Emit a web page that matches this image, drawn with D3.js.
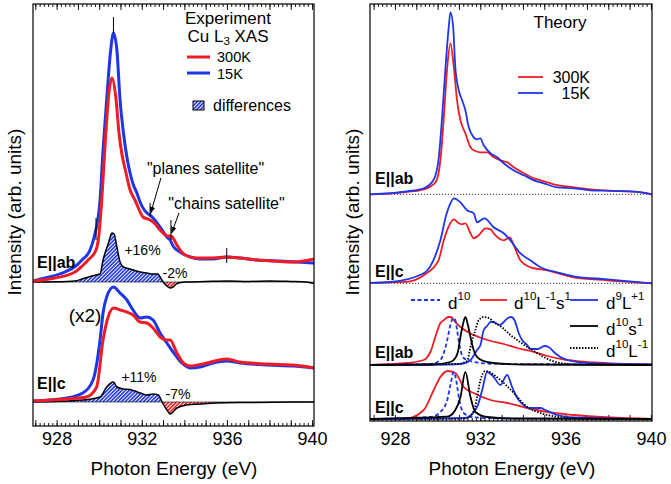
<!DOCTYPE html>
<html><head><meta charset="utf-8">
<script src="https://cdn.jsdelivr.net/npm/d3@7"></script>
<style>body{margin:0;background:#fff} svg text{font-family:"Liberation Sans",Arial,Helvetica,sans-serif;fill:#000}</style>
</head><body><svg id="c" width="671" height="484"></svg>
<script>
// ---------------- DATA (energy eV, intensity arb. units above each spectrum's baseline) ----------------
const xTickLabels = [928, 932, 936, 940];

// Experiment, E||ab
const expAb15K = [[926.9,0.1],[927.45,0.4],[928.39,1.0],[928.9,1.6],[929.19,2.2],[929.57,3.2],[929.75,4.4],[930.04,8.2],[930.18,13.2],[930.35,18.2],[930.54,23.2],[930.67,24.9],[930.83,23.2],[930.98,18.2],[931.14,14.9],[931.3,12.5],[931.45,10.9],[931.59,9.8],[931.77,8.9],[931.92,8.0],[932.24,6.9],[932.39,6.7],[932.53,6.4],[932.86,5.5],[933.05,4.9],[933.18,4.5],[933.33,4.2],[933.47,3.6],[933.8,3.0],[934.04,2.7],[934.27,2.5],[934.74,2.3],[935.35,2.3],[935.99,2.5],[936.62,2.4],[937.41,2.2],[938.5,2.1],[939.29,2.0],[940.09,1.9]];
const expAb300K = [[926.9,0.1],[927.92,0.4],[928.86,1.0],[929.2,1.6],[929.48,2.2],[929.85,3.2],[929.97,4.4],[930.12,8.2],[930.31,14.9],[930.47,19.2],[930.6,20.4],[930.78,18.5],[930.93,14.9],[931.09,12.5],[931.23,11.2],[931.45,9.2],[931.68,8.2],[932.06,6.5],[932.39,6.2],[932.63,5.8],[932.86,5.2],[933.05,4.8],[933.2,4.6],[933.37,4.6],[933.5,4.3],[933.65,3.7],[934.04,2.7],[934.6,2.4],[935.35,2.4],[935.95,2.5],[936.62,2.4],[937.41,2.2],[938.2,2.1],[939.11,2.0],[939.6,2.1],[940.09,2.3]];
const expAbDiff = [[926.9,0],[928.5,0.05],[928.86,0.1],[929.2,0.3],[929.5,0.5],[929.85,0.7],[930.04,0.8],[930.18,2.2],[930.42,3.8],[930.6,4.9],[930.7,4.8],[930.83,3.5],[930.98,2.0],[931.14,1.5],[931.45,1.3],[931.92,1.0],[932.24,0.9],[932.53,0.8],[932.75,0.8],[932.86,0.5],[933.0,0.0],[933.18,-0.4],[933.33,-0.6],[933.47,-0.5],[933.65,-0.15],[934.04,0.0],[935.0,0.05],[936.0,0.1],[937.0,0.05],[938.0,0.1],[939.0,0.05],[939.7,0.0],[940.09,-0.15]];
// Experiment, E||c (x2)
const expC15K = [[926.9,0.1],[928.47,0.4],[929.23,0.9],[929.71,2.2],[930.04,6.2],[930.18,8.9],[930.35,10.5],[930.67,11.5],[930.98,10.9],[931.3,10.2],[931.59,9.2],[931.92,8.4],[932.24,8.5],[932.53,8.2],[932.86,6.9],[933.18,5.9],[933.47,5.0],[933.88,3.9],[934.27,3.4],[934.74,3.5],[935.35,3.9],[935.99,4.1],[936.62,3.9],[937.88,3.7],[939.11,3.6],[940.09,3.4]];
const expC300K = [[926.9,0.1],[928.47,0.3],[929.4,0.5],[929.88,1.5],[930.18,6.2],[930.42,8.5],[930.67,9.4],[930.98,9.2],[931.3,9.0],[931.59,8.7],[931.92,8.0],[932.24,7.9],[932.53,7.4],[932.86,6.5],[933.18,6.2],[933.33,6.2],[933.65,4.9],[933.95,3.9],[934.27,3.6],[935.06,3.9],[935.99,4.3],[936.62,4.0],[937.88,3.8],[939.11,3.7],[940.09,3.4]];
const expCDiff = [[926.9,0],[929.23,0.2],[930.04,0.5],[930.35,1.5],[930.67,2.0],[930.83,1.5],[931.14,1.3],[931.45,1.25],[931.92,0.9],[932.24,0.7],[932.53,0.8],[932.78,0.7],[932.95,0.0],[933.18,-0.8],[933.33,-1.2],[933.65,-0.6],[934.1,-0.3],[934.74,-0.2],[935.5,-0.1],[937,-0.05],[940.09,0]];

// annotation markers on experimental E||ab spectrum
const markerE  = [929.85, 930.67, 932.39, 933.37, 935.99];
const markerLo = [4.2, 24.9, 6.5, 4.2, 1.9];
const markerHi = [6.4, 26.5, 7.9, 6.2, 3.4];

// Theory, E||ab
const thAb300K = [[926.85,0],[928.57,0.25],[929.35,0.5],[929.9,1.2],[930.13,3.4],[930.29,7.7],[930.45,12.7],[930.6,15.1],[930.76,12.7],[930.91,9.4],[931.07,7.4],[931.3,6.1],[931.54,4.7],[931.69,4.4],[932.01,4.2],[932.32,4.2],[932.63,3.7],[932.94,3.4],[933.1,3.3],[933.26,3.2],[933.57,2.7],[934.04,2.1],[934.51,1.6],[934.82,1.4],[935.44,1.0],[936.38,0.7],[937.95,0.36],[939.2,0.26],[940.05,0]];
const thAb15K = [[926.85,0],[928.57,0.3],[929.35,0.6],[929.8,1.4],[930.04,3.4],[930.21,7.7],[930.37,12.7],[930.52,16.7],[930.6,18.2],[930.73,16.7],[930.83,12.7],[930.99,10.4],[931.15,9.4],[931.3,8.4],[931.46,6.7],[931.69,5.7],[931.85,5.5],[932.0,5.6],[932.16,4.9],[932.48,4.1],[932.79,3.7],[933.1,3.1],[933.41,2.6],[933.73,2.2],[934.04,1.9],[934.51,1.4],[934.97,1.1],[935.6,0.7],[936.38,0.6],[937.16,0.4],[937.95,0.36],[939.2,0.26],[940.05,0]];
// Theory, E||c
const thC300K = [[926.85,0.05],[928.57,0.15],[929.35,0.8],[930.04,2.3],[930.29,4.3],[930.5,5.6],[930.76,6.4],[930.99,6.0],[931.15,5.9],[931.3,6.0],[931.54,5.0],[931.69,4.5],[931.93,4.8],[932.24,5.5],[932.48,5.4],[932.63,5.0],[932.94,4.4],[933.1,4.3],[933.38,4.6],[933.57,3.8],[933.88,2.3],[934.35,1.6],[935.13,1.3],[936.38,0.6],[937.95,0.3],[940.05,0]];
const thC15K = [[926.85,0.05],[927.79,0.13],[929.35,1.0],[929.8,2.3],[930.13,4.3],[930.4,6.8],[930.6,8.0],[930.76,8.5],[931.07,8.1],[931.38,7.3],[931.69,7.0],[931.85,6.1],[932.2,6.5],[932.63,5.6],[933.1,5.0],[933.41,4.3],[933.88,3.0],[934.35,2.3],[934.82,1.6],[935.6,1.1],[936.38,0.7],[937.95,0.4],[940.05,0]];

// Theory components, E||ab
const cAbD10   = [[926.85,0],[929.66,0.1],[930.13,0.5],[930.29,1.2],[930.45,2.5],[930.6,4.0],[930.73,4.7],[930.83,4.5],[930.91,3.5],[931.07,1.5],[931.22,0.7],[931.54,0.4],[932.01,0.2],[933.0,0.1],[940.05,0.05]];
const cAbD10Ls = [[926.85,0],[928.57,0.2],[929.35,0.5],[929.66,1.3],[929.95,3.2],[930.13,4.2],[930.3,4.5],[930.5,4.8],[930.6,4.8],[930.83,4.3],[931.07,3.8],[931.5,3.2],[931.93,2.8],[932.5,2.4],[933.1,2.1],[933.73,1.7],[934.35,1.4],[935.13,0.9],[936.07,0.5],[937.32,0.25],[940.05,0.05]];
const cAbD9L   = [[926.85,0],[930.5,0.05],[931.07,0.1],[931.54,0.5],[931.85,1.5],[932.01,2.0],[932.16,3.5],[932.32,3.9],[932.48,4.3],[932.6,4.3],[932.79,4.1],[932.94,4.0],[933.1,4.3],[933.3,4.7],[933.45,4.8],[933.6,4.5],[933.8,3.2],[933.96,2.5],[934.2,2.0],[934.35,1.6],[934.7,1.6],[935.0,1.9],[935.2,1.8],[935.5,1.2],[935.76,0.8],[936.07,0.5],[937.32,0.15],[940.05,0.05]];
const cAbD10s  = [[926.85,0],[929.8,0.05],[930.6,0.3],[930.83,0.7],[930.95,1.3],[931.07,2.8],[931.18,4.0],[931.3,4.8],[931.42,4.0],[931.54,2.8],[931.69,1.5],[931.85,0.8],[932.16,0.4],[932.63,0.2],[934.0,0.05],[940.05,0]];
const cAbD10L  = [[926.85,0],[930.9,0.1],[931.38,0.4],[931.54,1.8],[931.77,3.5],[931.93,4.5],[932.16,4.8],[932.4,4.7],[932.63,4.3],[933.0,3.8],[933.41,3.0],[933.8,2.4],[934.2,1.8],[934.6,1.3],[934.97,0.8],[935.76,0.2],[936.5,0.05],[940.05,0]];
// Theory components, E||c
const cCD10   = [[926.85,0],[929.66,0.2],[930.13,0.7],[930.45,1.9],[930.6,3.4],[930.76,4.7],[930.87,3.9],[930.99,2.2],[931.22,0.6],[931.69,0.17],[933.0,0.05],[940.05,0.02]];
const cCD10Ls = [[926.85,0],[928.57,0.07],[929.35,0.9],[929.82,2.9],[930.13,4.2],[930.47,4.8],[930.83,4.6],[931.22,3.2],[931.69,2.6],[932.48,1.9],[933.26,1.6],[934.2,1.1],[935.13,0.7],[936.38,0.4],[940.05,0]];
const cCD9L   = [[926.85,0],[931.3,0.1],[931.85,1.2],[932.09,2.9],[932.32,4.7],[932.63,4.2],[932.94,3.4],[933.26,4.4],[933.49,3.2],[933.8,1.9],[934.35,1.1],[934.82,1.1],[935.05,0.9],[935.6,0.4],[936.38,0.17],[940.05,0]];
const cCD10s  = [[926.85,0],[930.45,0.23],[930.83,0.9],[931.07,2.2],[931.3,4.7],[931.54,2.2],[931.77,0.7],[932.32,0.2],[933.5,0.05],[940.05,0]];
const cCD10L  = [[926.85,0],[931.3,0.05],[931.72,0.9],[931.85,2.2],[932.01,3.9],[932.24,4.8],[932.94,3.9],[933.57,2.6],[934.2,1.2],[934.82,0.6],[935.6,0.23],[936.5,0.05],[940.05,0]];

// ---------------- DRAWING ----------------
const RED = "#ee1c24", BLUE = "#1f35e8";
const svg = d3.select("#c");
const defs = svg.append("defs");

function hatch(id, color){
  const p = defs.append("pattern").attr("id", id).attr("patternUnits","userSpaceOnUse")
    .attr("width",2.6).attr("height",2.6).attr("patternTransform","rotate(45)");
  p.append("rect").attr("width",2.6).attr("height",2.6).attr("fill","#fff");
  p.append("line").attr("x1",0.8).attr("y1",0).attr("x2",0.8).attr("y2",2.6).attr("stroke",color).attr("stroke-width",1.6);
}
hatch("hB", BLUE); hatch("hR", RED);
defs.append("marker").attr("id","arr").attr("viewBox","0 0 10 10").attr("refX",9).attr("refY",5)
  .attr("markerWidth",7).attr("markerHeight",7).attr("orient","auto-start-reverse")
  .append("path").attr("d","M0,1 L10,5 L0,9 z").attr("fill","#000");

const xL = d3.scaleLinear().domain([926.89, 940.09]).range([33, 314]);
const yL = d3.scaleLinear().domain([0, 42.2]).range([426, 4]);
const xR = d3.scaleLinear().domain([926.83, 940.05]).range([370, 652]);
const yR = d3.scaleLinear().domain([0, 41.7]).range([421, 4]);

const offAb = 14.4, offC = 2.4;                 // experiment baselines
const offThAb = 22.67, offThC = 13.77, offCoAb = 5.6, offCoC = 0.2;  // theory baselines

function panel(x, y, id){
  const [x0,x1] = x.range(), [yb,yt] = y.range();
  defs.append("clipPath").attr("id", id).append("rect").attr("x",x0).attr("y",yt).attr("width",x1-x0).attr("height",yb-yt);
  const g = svg.append("g");
  const minor = d3.range(4635, 4701).map(i=>i/5).filter(v=>v>=x.domain()[0]&&v<=x.domain()[1]);
  const major = d3.range(927, 941);
  const mk = (axisFn, ty, vals, size) => g.append("g").attr("transform",`translate(0,${ty})`)
      .call(axisFn(x).tickValues(vals).tickSize(size).tickFormat(""))
      .call(s=>{s.select(".domain").remove(); s.selectAll("line").attr("stroke","#000").attr("stroke-width",0.9);});
  mk(d3.axisBottom, yb, minor, -3); mk(d3.axisBottom, yb, major, -6);
  mk(d3.axisTop, yt, minor, -3); mk(d3.axisTop, yt, major, -6);
  const lab = g.append("g").attr("transform",`translate(0,${yb})`)
     .call(d3.axisBottom(x).tickValues(xTickLabels).tickSize(0).tickPadding(445-yb-12.5).tickFormat(d3.format("d")));
  lab.select(".domain").remove();
  lab.selectAll("text").attr("font-size",18).attr("font-family",'"Liberation Sans",Arial,sans-serif');
  const body = svg.append("g").attr("clip-path",`url(#${id})`);
  return body;
}
function frame(x,y){
  const [x0,x1] = x.range(), [yb,yt] = y.range();
  svg.append("rect").attr("x",x0).attr("y",yt).attr("width",x1-x0).attr("height",yb-yt)
    .attr("fill","none").attr("stroke","#000").attr("stroke-width",1.2);
}
const lineGen = (x,y,off)=>d3.line().x(d=>x(d[0])).y(d=>y(d[1]+off)).curve(d3.curveMonotoneX);
function curve(g,x,y,data,off,color,w,dash){
  g.append("path").datum(data).attr("d",lineGen(x,y,off)).attr("fill","none")
   .attr("stroke",color).attr("stroke-width",w).attr("stroke-linejoin","round")
   .attr("stroke-dasharray",dash||null);
}
function diff(g,x,y,data,off,cid){
  const yb = y(off);
  const [x0,x1] = x.range();
  defs.append("clipPath").attr("id",cid+"a").append("rect").attr("x",x0).attr("y",0).attr("width",x1-x0).attr("height",yb);
  defs.append("clipPath").attr("id",cid+"b").append("rect").attr("x",x0).attr("y",yb).attr("width",x1-x0).attr("height",484-yb);
  const area = d3.area().x(d=>x(d[0])).y0(yb).y1(d=>y(d[1]+off)).curve(d3.curveMonotoneX);
  g.append("path").datum(data).attr("d",area).attr("fill","url(#hB)").attr("clip-path",`url(#${cid}a)`);
  g.append("path").datum(data).attr("d",area).attr("fill","url(#hR)").attr("clip-path",`url(#${cid}b)`);
  g.append("line").attr("x1",x0).attr("x2",x1).attr("y1",yb).attr("y2",yb).attr("stroke","#000").attr("stroke-width",0.6);
  curve(g,x,y,data,off,"#000",1.5);
}
function txt(x,y,s,size,opts={}){
  const t = svg.append("text").attr("x",x).attr("y",y).attr("font-size",size)
    .attr("dominant-baseline","central").attr("text-anchor",opts.anchor||"start")
    .attr("font-weight",opts.bold?"bold":null);
  if (typeof s === "string") t.text(s);
  else s.forEach(p=>{
    const sp = t.append("tspan").text(p.t);
    if (p.sup){ sp.attr("font-size",size*0.68).attr("dy",-size*0.42); }
    if (p.sub){ sp.attr("font-size",size*0.68).attr("dy",size*0.3); }
    if (p.back) sp.attr("dy",p.back);
  });
  return t;
}

// ---- Left panel: Experiment
const gL = panel(xL,yL,"clipL");
diff(gL,xL,yL,expAbDiff,offAb,"dab");
diff(gL,xL,yL,expCDiff,offC,"dc");
curve(gL,xL,yL,expAb15K,offAb,BLUE,3);
curve(gL,xL,yL,expAb300K,offAb,RED,3);
curve(gL,xL,yL,expC15K,offC,BLUE,3);
curve(gL,xL,yL,expC300K,offC,RED,3);
markerE.forEach((e,i)=>gL.append("line").attr("x1",xL(e)).attr("x2",xL(e))
  .attr("y1",yL(markerLo[i]+offAb)).attr("y2",yL(markerHi[i]+offAb)).attr("stroke","#000").attr("stroke-width",1));
gL.append("line").attr("x1",xL(932.9)).attr("y1",yL(10.4+offAb)).attr("x2",xL(932.42)).attr("y2",yL(6.9+offAb))
  .attr("stroke","#000").attr("stroke-width",1).attr("marker-end","url(#arr)");
gL.append("line").attr("x1",xL(933.75)).attr("y1",yL(6.9+offAb)).attr("x2",xL(933.4)).attr("y2",yL(4.9+offAb))
  .attr("stroke","#000").attr("stroke-width",1).attr("marker-end","url(#arr)");
frame(xL,yL);

txt(228,18,"Experiment",17,{anchor:"middle"});
txt(228,36,[{t:"Cu L"},{t:"3",sub:true},{t:" XAS",back:-17*0.3}],17,{anchor:"middle"});
svg.append("line").attr("x1",187).attr("x2",210).attr("y1",57).attr("y2",57).attr("stroke",RED).attr("stroke-width",3);
svg.append("line").attr("x1",187).attr("x2",210).attr("y1",73).attr("y2",73).attr("stroke",BLUE).attr("stroke-width",3);
txt(217,56.5,"300K",14.5); txt(217,73.5,"15K",14.5);
svg.append("rect").attr("x",193).attr("y",101).attr("width",11).attr("height",9).attr("fill","url(#hB)").attr("stroke","#000").attr("stroke-width",1);
txt(213,105,"differences",16);
txt(205.5,168,"\"planes satellite\"",16,{anchor:"middle"});
txt(226.5,203,"\"chains satellite\"",16,{anchor:"middle"});
txt(142.5,250,"+16%",14,{anchor:"middle"});
txt(175,273,"-2%",14,{anchor:"middle"});
txt(139,377,"+11%",14,{anchor:"middle"});
txt(178,394,"-7%",14,{anchor:"middle"});
txt(85,315,"(x2)",19,{anchor:"middle"});
txt(37,262,"E||ab",16,{bold:true});
txt(37,383,"E||c",16,{bold:true});

// ---- Right panel: Theory
const gR = panel(xR,yR,"clipR");
[offThAb, offThC].forEach(o=>gR.append("line").attr("x1",370).attr("x2",652).attr("y1",yR(o)).attr("y2",yR(o))
  .attr("stroke","#333").attr("stroke-width",1).attr("stroke-dasharray","1.2,1.8"));
curve(gR,xR,yR,thAb300K,offThAb,RED,1.8);
curve(gR,xR,yR,thAb15K,offThAb,BLUE,1.8);
curve(gR,xR,yR,thC300K,offThC,RED,1.8);
curve(gR,xR,yR,thC15K,offThC,BLUE,1.8);
[[offCoAb,[cAbD10Ls,cAbD10,cAbD9L,cAbD10s,cAbD10L]],[offCoC,[cCD10Ls,cCD10,cCD9L,cCD10s,cCD10L]]].forEach(([o,s])=>{
  curve(gR,xR,yR,s[0],o,RED,1.8);
  curve(gR,xR,yR,s[1],o,BLUE,1.8,"4,2.5");
  curve(gR,xR,yR,s[2],o,BLUE,1.8);
  curve(gR,xR,yR,s[3],o,"#000",1.8);
  curve(gR,xR,yR,s[4],o,"#000",1.8,"1.5,1.5");
});
frame(xR,yR);

txt(560,22,"Theory",17,{anchor:"middle"});
svg.append("line").attr("x1",518).attr("x2",543).attr("y1",77).attr("y2",77).attr("stroke",RED).attr("stroke-width",1.8);
svg.append("line").attr("x1",518).attr("x2",543).attr("y1",93).attr("y2",93).attr("stroke",BLUE).attr("stroke-width",1.8);
txt(590,77,"300K",16,{anchor:"end"}); txt(590,93,"15K",16,{anchor:"end"});
txt(375,178,"E||ab",16,{bold:true});
txt(375,271,"E||c",16,{bold:true});
txt(375,352,"E||ab",16,{bold:true});
txt(375,407,"E||c",16,{bold:true});

// components legend
const leg = [
  [411,440,300,BLUE,"4,2.5",448,[{t:"d"},{t:"10",sup:true}]],
  [480,507,300,RED,null,514,[{t:"d"},{t:"10",sup:true},{t:"L",back:17*0.42},{t:"-1",sup:true},{t:"s",back:17*0.42},{t:"1",sup:true}]],
  [570,598,300,BLUE,null,606,[{t:"d"},{t:"9",sup:true},{t:"L",back:17*0.42},{t:"+1",sup:true}]],
  [570,598,326,"#000",null,606,[{t:"d"},{t:"10",sup:true},{t:"s",back:17*0.42},{t:"1",sup:true}]],
  [570,598,348,"#000","1.5,1.5",606,[{t:"d"},{t:"10",sup:true},{t:"L",back:17*0.42},{t:"-1",sup:true}]]
];
leg.forEach(([a,b,yy,c,d,tx,parts])=>{
  svg.append("line").attr("x1",a).attr("x2",b).attr("y1",yy).attr("y2",yy).attr("stroke",c).attr("stroke-width",1.8).attr("stroke-dasharray",d);
  txt(tx,yy+3,parts,17);
});

// axis titles
txt(174,468,"Photon Energy (eV)",19,{anchor:"middle"});
txt(512,468,"Photon Energy (eV)",19,{anchor:"middle"});
txt(0,0,"Intensity (arb. units)",19,{anchor:"middle"}).attr("transform","translate(14,212) rotate(-90)");
txt(0,0,"Intensity (arb. units)",19,{anchor:"middle"}).attr("transform","translate(352,212) rotate(-90)");
</script></body></html>
